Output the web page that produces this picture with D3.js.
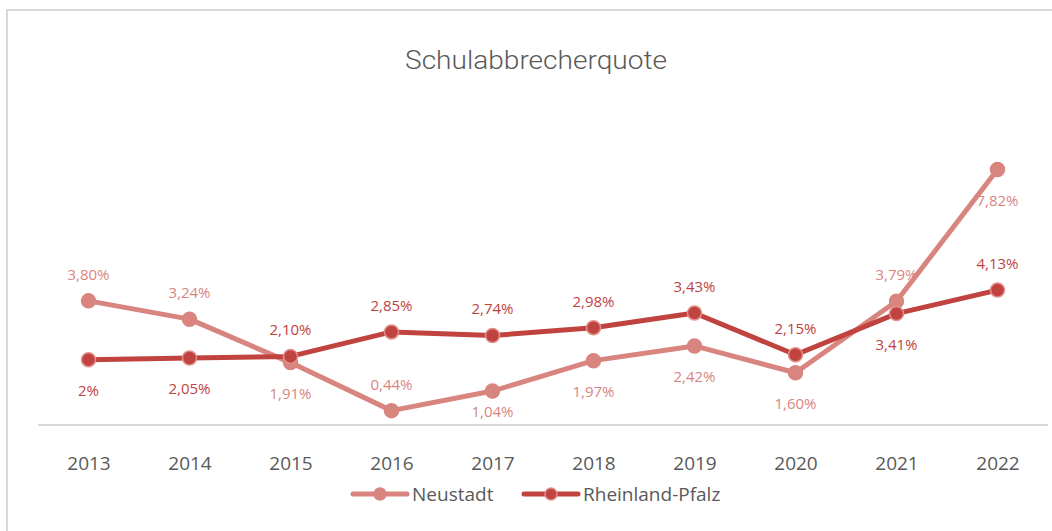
<!DOCTYPE html>
<html>
<head>
<meta charset="utf-8">
<script src="https://cdn.jsdelivr.net/npm/d3@7"></script>
<style>
  body { margin: 0; background: #fff; }
  svg { display: block; font-family: "Open Sans", "Noto Sans", sans-serif; }
</style>
</head>
<body>
<div id="chart"></div>
<script>
const years = ["2013", "2014", "2015", "2016", "2017", "2018", "2019", "2020", "2021", "2022"];
const neustadt = [3.80, 3.24, 1.91, 0.44, 1.04, 1.97, 2.42, 1.60, 3.79, 7.82];
const rlp = [2.00, 2.05, 2.10, 2.85, 2.74, 2.98, 3.43, 2.15, 3.41, 4.13];
// label placement: 1 = above the point, -1 = below
const neustadtPos = [1, 1, -1, 1, -1, -1, -1, -1, 1, -1];
const rlpPos = [-1, -1, 1, 1, 1, 1, 1, 1, -1, 1];
const rlpLabels = ["2%", "2,05%", "2,10%", "2,85%", "2,74%", "2,98%", "3,43%", "2,15%", "3,41%", "4,13%"];

const width = 1052, height = 531;
const colNeu = "#d9857f", colRlp = "#c0433f";

const svg = d3.select("#chart").append("svg")
  .attr("width", width)
  .attr("height", height);

// chart frame
svg.append("rect")
  .attr("x", 7).attr("y", 10)
  .attr("width", width + 20).attr("height", height + 20)
  .attr("fill", "none")
  .attr("stroke", "#d9d9d9")
  .attr("stroke-width", 2);

svg.append("text")
  .attr("x", 536).attr("y", 69)
  .attr("text-anchor", "middle")
  .style("font-family", "Roboto, 'Open Sans', sans-serif")
  .style("font-weight", 300)
  .style("font-size", "26px")
  .attr("textLength", 262)
  .attr("lengthAdjust", "spacingAndGlyphs")
  .style("fill", "#595959")
  .text("Schulabbrecherquote");

const x = d3.scalePoint().domain(years).range([88.5, 997.5]);
const y = d3.scaleLinear().domain([0, 9]).range([425, 131]);

// category axis
const xAxis = svg.append("g")
  .attr("transform", "translate(0,425)")
  .call(d3.axisBottom(x).tickSize(0).tickPadding(32));
xAxis.select(".domain").remove();
xAxis.append("line")
  .attr("x1", 38).attr("x2", 1048)
  .attr("stroke", "#d9d9d9").attr("stroke-width", 2);
xAxis.selectAll("text")
  .style("font-size", "19px")
  .style("fill", "#595959")
  .style("font-family", "'Open Sans', 'Noto Sans', sans-serif");

const fmt = v => v.toFixed(2).replace(".", ",") + "%";

function drawSeries(vals, color, strokeCol, pos, labels) {
  const line = d3.line().x((d, i) => x(years[i])).y(d => y(d));
  svg.append("path")
    .datum(vals)
    .attr("d", line)
    .attr("fill", "none")
    .attr("stroke", color)
    .attr("stroke-width", 5)
    .attr("stroke-linecap", "round")
    .attr("stroke-linejoin", "round");
  svg.append("g").selectAll("circle")
    .data(vals)
    .enter().append("circle")
    .attr("cx", (d, i) => x(years[i]))
    .attr("cy", d => y(d))
    .attr("r", 7)
    .attr("fill", color)
    .attr("stroke", strokeCol)
    .attr("stroke-width", 1.5);
  // labels below the point stay inside the plot area
  svg.append("g").selectAll("text")
    .data(vals)
    .enter().append("text")
    .attr("x", (d, i) => x(years[i]))
    .attr("y", (d, i) => pos[i] > 0 ? y(d) - 21 : Math.min(y(d) + 36, 417))
    .attr("text-anchor", "middle")
    .style("font-size", "15px")
    .style("fill", color)
    .text((d, i) => labels ? labels[i] : fmt(d));
}

drawSeries(neustadt, colNeu, colNeu, neustadtPos, null);
drawSeries(rlp, colRlp, "#e08f8a", rlpPos, rlpLabels);

// legend
const legend = [
  { name: "Neustadt", color: colNeu, stroke: colNeu, x: 353, tx: 412 },
  { name: "Rheinland-Pfalz", color: colRlp, stroke: "#e08f8a", x: 524, tx: 583 }
];
const lg = svg.append("g").selectAll("g").data(legend).enter().append("g");
lg.append("line")
  .attr("x1", d => d.x).attr("x2", d => d.x + 54)
  .attr("y1", 494).attr("y2", 494)
  .attr("stroke", d => d.color).attr("stroke-width", 5)
  .attr("stroke-linecap", "round");
lg.append("circle")
  .attr("cx", d => d.x + 27).attr("cy", 494).attr("r", 6)
  .attr("fill", d => d.color)
  .attr("stroke", d => d.stroke).attr("stroke-width", 1.5);
lg.append("text")
  .attr("x", d => d.tx).attr("y", 501)
  .style("font-size", "19px")
  .style("fill", "#595959")
  .text(d => d.name);
</script>
</body>
</html>
